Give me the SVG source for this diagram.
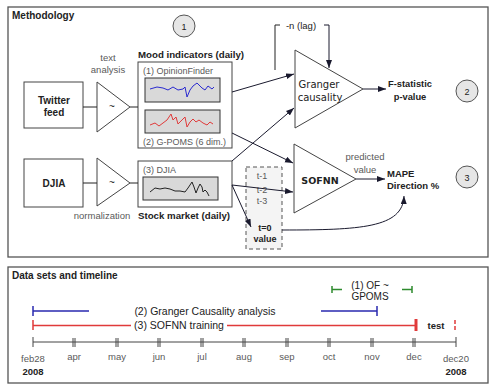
<svg xmlns="http://www.w3.org/2000/svg" width="495" height="392" viewBox="0 0 495 392">
<defs>
<marker id="ah" markerUnits="userSpaceOnUse" markerWidth="9" markerHeight="7" refX="8" refY="3" orient="auto">
<path d="M0,0 L8,3 L0,6 z" fill="#1a1a2e"/>
</marker>
<style>
.frame{fill:#fff;stroke:#555;stroke-width:1.3}
.box{fill:#fff;stroke:#444;stroke-width:1}
.chart{fill:#d9d9d9;stroke:#333;stroke-width:1}
.tri{fill:#fff;stroke:#444;stroke-width:1}
.ln{fill:none;stroke:#222;stroke-width:1}
.arr{fill:none;stroke:#1a1a2e;stroke-width:1;marker-end:url(#ah)}
.t{font-family:"Liberation Sans",Arial,sans-serif;fill:#222}
.b{font-weight:bold}
.g{fill:#5a5a5a}
.dv{font-family:"DejaVu Sans",sans-serif;fill:#222}
.num{fill:#e6e6e6;stroke:#555;stroke-width:1}
.ax{stroke:#444;stroke-width:1;fill:none}
</style>
</defs>
<rect width="495" height="392" fill="#fff"/>

<g id="methodology">
<rect class="frame" x="8" y="7" width="480" height="250"/>
<text class="t b" x="12" y="19" font-size="10">Methodology</text>
</g>

<g id="circle1"><circle class="num" cx="184" cy="26" r="11"/><text class="t" x="184" y="29.5" font-size="9" text-anchor="middle" fill="#444">1</text></g>
<g id="circle2"><circle class="num" cx="467" cy="91" r="11"/><text class="t" x="467" y="94.5" font-size="9" text-anchor="middle" fill="#444">2</text></g>
<g id="circle3"><circle class="num" cx="467" cy="177" r="11"/><text class="t" x="467" y="180.5" font-size="9" text-anchor="middle" fill="#444">3</text></g>

<g id="twitter">
<rect class="box" x="24" y="82" width="59" height="46"/>
<text class="t b" x="54" y="104" font-size="10" text-anchor="middle">Twitter</text>
<text class="t b" x="54" y="116" font-size="10" text-anchor="middle">feed</text>
</g>

<g id="textanalysis">
<text class="t g" x="108" y="61" font-size="9.5" text-anchor="middle">text</text>
<text class="t g" x="108" y="73" font-size="9.5" text-anchor="middle">analysis</text>
<path class="tri" d="M97,82 L97,132 L130,107 z"/>
<text class="t" x="112" y="110" font-size="10" text-anchor="middle">~</text>
</g>

<g id="mood">
<text class="t b" x="138" y="58" font-size="9.7">Mood indicators (daily)</text>
<rect class="box" x="138" y="62" width="94" height="86"/>
<text class="t g" x="143" y="74" font-size="9">(1) OpinionFinder</text>
<rect class="chart" x="145" y="78" width="75" height="24"/>
<polyline fill="none" stroke="#2a2ad0" stroke-width="1" points="150,89 157,87 163,88 168,90 173,87 178,90 183,89 185,87 187,97 190,90 193,86 197,83 202,88 205,90 208,86 212,89 214,87"/>
<rect class="chart" x="145" y="110" width="75" height="23"/>
<polyline fill="none" stroke="#e03a3a" stroke-width="1" points="150,125 155,123 159,126 163,123 167,120 171,114 173,120 176,117 178,124 182,120 185,117 187,127 190,122 193,119 196,122 199,120 203,123 207,125 210,122 213,124"/>
<text class="t g" x="143" y="145" font-size="9">(2) G-POMS (6 dim.)</text>
</g>

<g id="djia">
<rect class="box" x="24" y="159" width="59" height="48"/>
<text class="t b" x="54" y="187" font-size="10" text-anchor="middle">DJIA</text>
</g>

<g id="normalization">
<path class="tri" d="M97,158 L97,206 L130,183 z"/>
<text class="t" x="112" y="186" font-size="10" text-anchor="middle">~</text>
<text class="t g" x="102" y="219" font-size="9.5" text-anchor="middle">normalization</text>
</g>

<g id="stock">
<rect class="box" x="138" y="161" width="94" height="46"/>
<text class="t g" x="143" y="173" font-size="9">(3) DJIA</text>
<rect class="chart" x="143" y="177" width="75" height="23"/>
<polyline fill="none" stroke="#222" stroke-width="1" points="150,192 155,188 160,189 165,188 170,189 175,191 180,191 185,192 188,188 192,182 194,187 196,193 198,188 200,184 202,187 203,192 205,190 207,192 209,196"/>
<text class="t b" x="138" y="219" font-size="9.7">Stock market (daily)</text>
</g>

<g id="granger">
<path class="tri" d="M295,50 L295,128 L363,89 z"/>
<text class="dv" x="319" y="88" font-size="10" text-anchor="middle">Granger</text>
<text class="dv" x="320" y="101" font-size="10" text-anchor="middle">causality</text>
</g>

<g id="lag">
<text class="t" x="301" y="29" font-size="9.5" text-anchor="middle">-n (lag)</text>
</g>

<g id="fstat">
<text class="t b" x="410" y="87" font-size="9.3" text-anchor="middle">F-statistic</text>
<text class="t b" x="410" y="100" font-size="9.3" text-anchor="middle">p-value</text>
</g>

<g id="sofnn">
<path class="tri" d="M294,144 L294,213 L356,179 z"/>
<text class="dv b" x="320" y="184" font-size="9.5" text-anchor="middle">SOFNN</text>
</g>

<g id="predicted">
<text class="t g" x="365" y="160" font-size="9.5" text-anchor="middle">predicted</text>
<text class="t g" x="365" y="173" font-size="9.5" text-anchor="middle">value</text>
</g>

<g id="mape">
<text class="t b" x="387" y="177" font-size="9.5">MAPE</text>
<text class="t b" x="387" y="189" font-size="9.5">Direction %</text>
</g>

<g id="lagged">
<rect x="246" y="167" width="36" height="82" fill="#f4f4f4" stroke="#555" stroke-width="1" stroke-dasharray="4,3"/>
<text class="t g" x="262" y="179" font-size="9" text-anchor="middle">t-1</text>
<text class="t g" x="262" y="193" font-size="9" text-anchor="middle">t-2</text>
<text class="t g" x="262" y="204" font-size="9" text-anchor="middle">t-3</text>
<text class="t b" x="265" y="231" font-size="9" text-anchor="middle">t=0</text>
<text class="t b" x="265" y="242" font-size="9" text-anchor="middle">value</text>
</g>

<g id="connectors">
<line class="ln" x1="83" y1="107" x2="97" y2="107"/>
<line class="ln" x1="130" y1="107" x2="138" y2="107"/>
<line class="ln" x1="83" y1="183" x2="97" y2="183"/>
<line class="ln" x1="130" y1="183" x2="138" y2="183"/>
<line class="arr" x1="232" y1="92" x2="294" y2="74"/>
<line class="arr" x1="232" y1="161" x2="294" y2="108"/>
<line class="arr" x1="232" y1="133" x2="293" y2="163"/>
<line class="arr" x1="232" y1="185" x2="293" y2="192"/>
<line class="arr" x1="232" y1="185" x2="251" y2="227"/>
<line class="arr" x1="363" y1="89" x2="386" y2="89"/>
<line class="arr" x1="356" y1="179" x2="385" y2="179"/>
<polyline class="ln" points="275,70 275,25 280,25"/>
<polyline class="arr" points="324,25 329,25 329,68"/>
<path class="arr" d="M282,230 C360,230 403,228 404,196"/>
</g>

<g id="timeline">
<rect class="frame" x="8" y="267" width="480" height="116"/>
<text class="t b" x="12" y="279" font-size="10">Data sets and timeline</text>

<g id="of-gpoms">
<path d="M332,286 L332,293 M332,289.5 L342,289.5 M402,289.5 L412,289.5 M412,286 L412,293" stroke="#2e8b2e" stroke-width="1.5" fill="none"/>
<text class="t" x="370" y="289" font-size="10" text-anchor="middle">(1) OF ~</text>
<text class="t" x="370" y="300" font-size="10" text-anchor="middle">GPOMS</text>
</g>

<g id="granger-period">
<path d="M33,306 L33,316 M33,311 L89,311 M321,311 L377,311 M377,306 L377,316" stroke="#2a2ab0" stroke-width="1.5" fill="none"/>
<text class="t" x="205" y="315" font-size="10.5" text-anchor="middle">(2) Granger Causality analysis</text>
</g>

<g id="sofnn-period">
<path d="M33,320 L33,330 M33,325.5 L131,325.5 M227,325.5 L416,325.5" stroke="#e03a3a" stroke-width="1.5" fill="none"/>
<path d="M416,319 L416,331" stroke="#e03a3a" stroke-width="3" fill="none"/>
<text class="t" x="179" y="329" font-size="10.5" text-anchor="middle">(3) SOFNN training</text>
<text class="t b" x="436" y="329" font-size="9.5" text-anchor="middle">test</text>
<path d="M455,320 L455,331" stroke="#e03a3a" stroke-width="1.5" stroke-dasharray="4,2" fill="none"/>
</g>

<g id="axis">
<line class="ax" x1="33" y1="342" x2="456" y2="342"/>
<path class="ax" d="M33,337 L33,347 M456,337 L456,347
M73,338 L73,347 M75,338 L75,347
M116,338 L116,347 M118,338 L118,347
M158,338 L158,347 M160,338 L160,347
M201,338 L201,347 M203,338 L203,347
M243,338 L243,347 M245,338 L245,347
M286,338 L286,347 M288,338 L288,347
M328,338 L328,347 M330,338 L330,347
M371,338 L371,347 M373,338 L373,347
M413,338 L413,347 M415,338 L415,347"/>
<g font-size="9.5" text-anchor="middle">
<text class="t g" x="33" y="362">feb28</text>
<text class="t g" x="74" y="360">apr</text>
<text class="t g" x="117" y="360">may</text>
<text class="t g" x="159" y="360">jun</text>
<text class="t g" x="202" y="360">jul</text>
<text class="t g" x="244" y="360">aug</text>
<text class="t g" x="287" y="360">sep</text>
<text class="t g" x="329" y="360">oct</text>
<text class="t g" x="372" y="360">nov</text>
<text class="t g" x="414" y="360">dec</text>
<text class="t g" x="456" y="362">dec20</text>
</g>
<text class="t b" x="33" y="375" font-size="9.5" text-anchor="middle">2008</text>
<text class="t b" x="456" y="375" font-size="9.5" text-anchor="middle">2008</text>
</g>
</g>
</svg>
